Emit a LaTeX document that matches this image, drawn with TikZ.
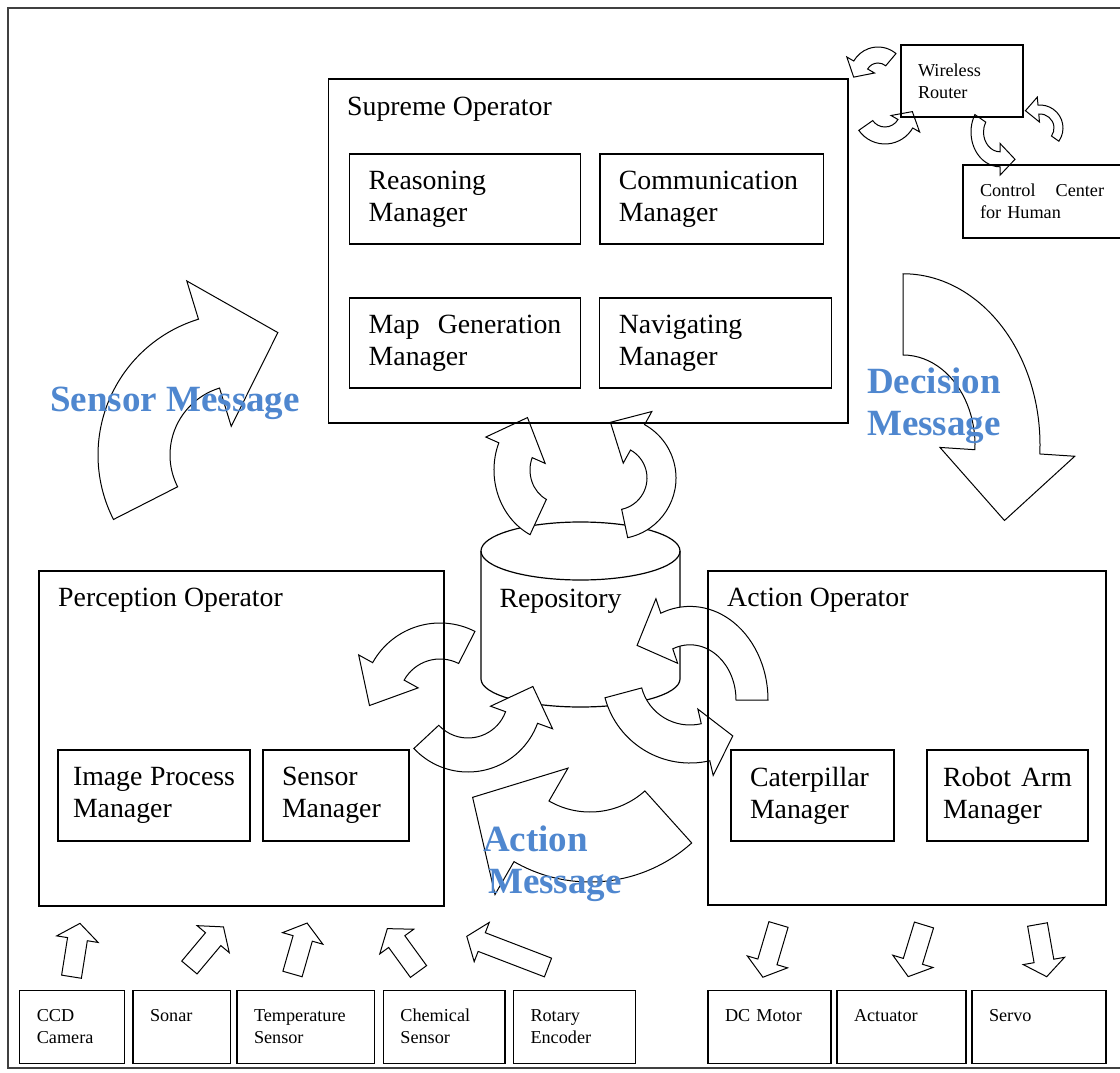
\documentclass[tikz,border=0pt]{standalone}
\usepackage{fontspec}
\setmainfont{Liberation Serif}
\usepackage{xcolor}
\usepackage{tikz}
\usetikzlibrary{positioning}

\definecolor{msgblue}{RGB}{79,135,207}

% curved block arrow: [place]{inner r}{outer r}{from}{to}{head length}{barb}
\newcommand{\bandarrow}[7][]{%
  \draw[blockarr,#1] (#4:#3) arc[start angle=#4, end angle=#5, radius=#3]
    -- (#5:{#3+#7})
    -- ({(#2+#3)/2*cos(#5)-(#6)*sin(#5)},{(#2+#3)/2*sin(#5)+(#6)*cos(#5)})
    -- (#5:{#2-#7}) -- (#5:#2)
    arc[start angle=#5, end angle=#4, radius=#2] -- cycle;}
% straight block arrow along +x: [place]{length}
\newcommand{\stemarrow}[2][]{%
  \draw[blockarr,#1] (0,-10) -- ({#2-16},-10) -- ({#2-16},-21) -- (#2,0)
    -- ({#2-16},21) -- ({#2-16},10) -- (0,10) -- cycle;}

\begin{document}
\begin{tikzpicture}[x=1pt, y=1pt,
  blockarr/.style={draw, fill=white, line width=1pt},
  opbox/.style={draw, line width=1.2pt},
  optitle/.style={anchor=base west, inner sep=0pt, font=\fontsize{27.8}{32}\selectfont},
  mgr/.style={draw, line width=1.2pt, inner xsep=19pt, inner ysep=0pt, text width=#1,
    minimum height=90pt, align=left, font=\fontsize{27.8}{32}\selectfont},
  dev/.style={draw, line width=1.1pt, inner xsep=17pt, inner ysep=0pt, text width=#1,
    minimum height=73pt, align=left, font=\fontsize{18.2}{22}\selectfont},
  msg/.style={text=msgblue, inner sep=0pt, align=left, font=\fontsize{37}{42}\selectfont\bfseries}]
\useasboundingbox (0,0) rectangle (1120,-1073);

% outer frame
\draw[line width=1.6pt, black!75] (8,-8) rectangle (1140,-1068);

% repository drum
\draw[line width=1.2pt, fill=white] (481,-551) -- (481,-679)
  arc[start angle=180, end angle=360, x radius=99.5, y radius=28] -- (680,-551);
\draw[line width=1.2pt] (580.5,-551) ellipse[x radius=99.5, y radius=29];
\node[font=\fontsize{27.8}{32}\selectfont, inner sep=0pt] (repo) at (560.5,-601) {Repository};

% message flows
\bandarrow[shift={(240,-455)}]{70}{142}{207}{107}{-72}{40}
\bandarrow[shift={(903,-445)}, yscale=1.25]{72}{137}{90}{-3}{-55}{35}
\bandarrow[shift={(590,-730)}]{82}{152}{312}{240}{-68}{38}

% around the repository
\bandarrow[shift={(560,-470)}, yscale=1.1]{30}{66}{243}{158}{-32}{14}
\bandarrow[shift={(615,-478)}]{32}{61}{-78}{61}{31}{15}
\bandarrow[shift={(440,-700)}]{41}{77}{63}{151}{39}{16}
\bandarrow[shift={(468,-698)}]{40}{74}{223}{340}{33}{16}
\bandarrow[shift={(690,-700)}, yscale=1.2]{46}{78}{0}{112}{32}{13}
\bandarrow[shift={(690,-675)}]{50}{88}{195}{283}{28}{15}

% router links
\bandarrow[shift={(878,-75)}]{12}{28}{50}{150}{14}{8}
\bandarrow[shift={(885,-112)}]{15}{32}{215}{330}{14}{8}
\bandarrow[shift={(1040,-128)}]{14}{23}{-35}{95}{13}{8}
\bandarrow[shift={(1000,-132)}, yscale=1.2]{16.5}{29}{150}{270}{15}{7}

% sensors in, actuators out
\stemarrow[shift={(71.5,-976.7)}, rotate=81]{54}
\stemarrow[shift={(189.4,-967.5)}, rotate=50]{53}
\stemarrow[shift={(292.5,-974)}, rotate=74]{53}
\stemarrow[shift={(418.5,-971.5)}, rotate=126]{53}
\stemarrow[shift={(548,-967.5)}, rotate=159]{87}
\stemarrow[shift={(778.5,-924.5)}, rotate=253.5]{55}
\stemarrow[shift={(924,-925)}, rotate=253]{54}
\stemarrow[shift={(1037.5,-924.5)}, rotate=280]{53}

% supreme operator
\node[opbox, minimum width=519.5pt, minimum height=344pt] (supreme) at (588.25,-251) {};
\node[optitle] (supremetitle) at (347,-115.8) {Supreme Operator};
\node[mgr=192.6pt] (reasoning) at (465,-199) {Reasoning\\Manager};
\node[mgr=185.8pt] (communication) at (711.8,-199) {Communication\\Manager};
\node[mgr=192.6pt] (mapgen) at (465,-343) {Map\hfill Generation\\Manager};
\node[mgr=193.3pt] (navigating) at (715.5,-343) {Navigating\\Manager};

% perception operator
\node[opbox, minimum width=405pt, minimum height=335pt] (perception) at (241.5,-738.5) {};
\node[optitle] (perceptiontitle) at (58,-606.7) {Perception Operator};
\node[mgr=162pt, inner xsep=15pt, minimum height=91pt] (imageproc) at (154,-795.5) {Image\hfill Process\\Manager};
\node[mgr=108pt, minimum height=91pt] (sensormgr) at (336,-795.5) {Sensor\\Manager};

% action operator
\node[opbox, minimum width=398pt, minimum height=334pt] (action) at (907,-738) {};
\node[optitle] (actiontitle) at (727,-606.7) {Action Operator};
\node[mgr=125pt, minimum height=91pt] (caterpillar) at (812.5,-795.5) {Caterpillar\\Manager};
\node[mgr=129pt, inner xsep=16pt, minimum height=91pt] (robotarm) at (1007.5,-795.5) {Robot\hfill Arm\\Manager};

% devices
\node[dev=70.8pt] (ccd) at (72.2,-1026.7) {CCD\\Camera};
\node[dev=63.2pt] (sonar) at (181.6,-1026.7) {Sonar\\\mbox{}};
\node[dev=103.6pt] (temp) at (305.8,-1026.7) {Temperature\\Sensor};
\node[dev=87.6pt] (chem) at (444.2,-1026.7) {Chemical\\Sensor};
\node[dev=88pt] (rotary) at (574.5,-1026.7) {Rotary\\Encoder};
\node[dev=89pt] (dcmotor) at (769.5,-1026.7) {DC Motor\\\mbox{}};
\node[dev=95pt] (actuator) at (901.5,-1026.7) {Actuator\\\mbox{}};
\node[dev=100pt] (servo) at (1039,-1026.7) {Servo\\\mbox{}};

% router and human side
\node[dev=88pt, minimum height=72pt] (router) at (962,-81) {Wireless\\Router};
\node[dev=140pt] (control) at (1050,-201.5) {Control\hspace{20pt}Center\\for Human};

% message labels
\node[msg, anchor=base west] (sensormsg) at (50,-411.7) {Sensor Message};
\node[msg, anchor=west] (decisionmsg) at (867,-405.8) {Decision\\Message};
\node[msg, anchor=west] (actionmsg) at (483,-864) {Action\\\hspace*{5pt}Message};
\end{tikzpicture}
\end{document}
